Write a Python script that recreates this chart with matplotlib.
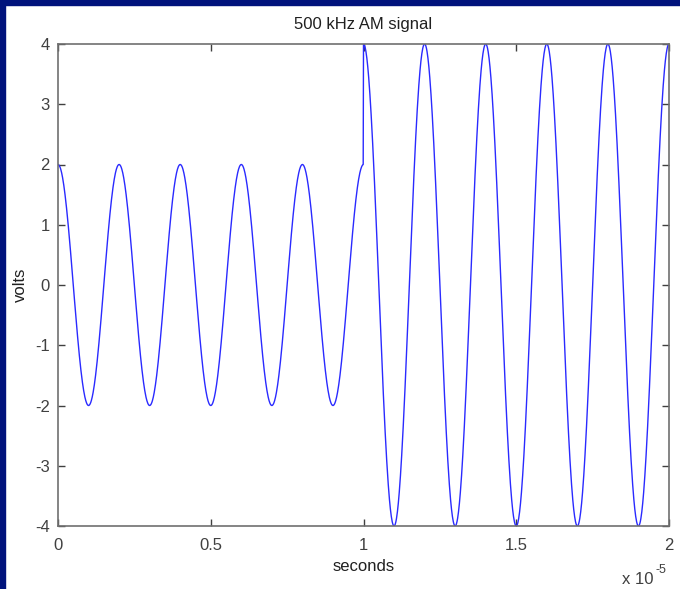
import matplotlib
matplotlib.use('Agg')
import matplotlib.pyplot as plt
import numpy as np

# AM test signal: 500 kHz carrier, amplitude steps up halfway through
carrier_hz = 500e3
amplitudes = [2.0, 4.0]          # volts, before / after the step
step_time = 1e-5                 # seconds
t_end = 2e-5
n_samples = 2001

xticks = [0, 0.5, 1, 1.5, 2]
yticks = [-4, -3, -2, -1, 0, 1, 2, 3, 4]

t = np.linspace(0, t_end, n_samples)
amp = np.where(t < step_time, amplitudes[0], amplitudes[1])
v = amp * np.cos(2 * np.pi * carrier_hz * t)

plt.rcParams['font.family'] = ['Liberation Sans', 'DejaVu Sans']
plt.rcParams['axes.unicode_minus'] = False

fig = plt.figure(figsize=(6.8, 5.89), dpi=100, facecolor='white')

# navy frame strips along top and left edge
navy = '#00137c'
fig.patches.append(plt.Rectangle((0, 1 - 5 / 589), 1, 5 / 589, transform=fig.transFigure,
                                 color=navy, zorder=0))
fig.patches.append(plt.Rectangle((0, 0), 5 / 680, 1, transform=fig.transFigure,
                                 color=navy, zorder=0))

ax = fig.add_axes([58 / 680, 63 / 589, 611 / 680, 482 / 589])
ax.plot(t / 1e-5, v, color='#2a2aff', linewidth=1.0)

ax.set_xlim(0, 2)
ax.set_ylim(-4, 4)
ax.set_xticks(xticks)
ax.set_xticklabels(['0', '0.5', '1', '1.5', '2'])
ax.set_yticks(yticks)
ax.tick_params(direction='in', length=5, width=1, colors='#404040',
               labelsize=12, top=True, right=True)
ax.tick_params(axis='x', pad=9)
ax.tick_params(axis='y', pad=6)
for sp in ax.spines.values():
    sp.set_color('#707070')
    sp.set_linewidth(1.2)

ax.set_title('500 kHz AM signal', fontsize=12, color='#202020', pad=11)
ax.set_xlabel('seconds', fontsize=12, color='#202020', labelpad=4)
ax.set_ylabel('volts', fontsize=12, color='#202020', labelpad=5)

# exponent note below the x axis
fig.text(622 / 680, 1 - 580 / 589, 'x 10', fontsize=12, color='#404040',
         ha='left', va='center')
fig.text(655 / 680, 1 - 570 / 589, '-5', fontsize=9, color='#404040',
         ha='left', va='center')

fig.savefig('out.png', dpi=100, facecolor='white')
